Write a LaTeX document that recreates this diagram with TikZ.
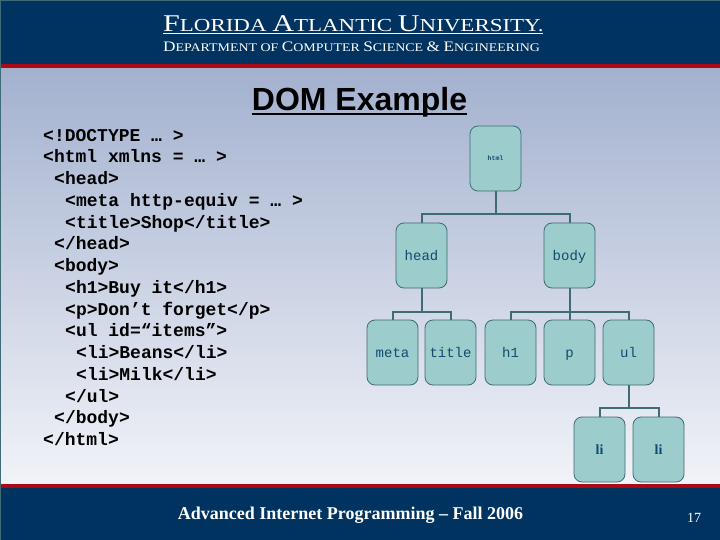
\documentclass[tikz,border=0pt]{standalone}
\usepackage{fontspec}
\setmainfont{Liberation Serif}
\setsansfont{Liberation Sans}
\setmonofont{Liberation Mono}
\usetikzlibrary{positioning}

\definecolor{navy}{RGB}{0,51,96}
\definecolor{stripe}{RGB}{170,10,20}
\definecolor{boxfill}{RGB}{156,204,204}
\definecolor{boxline}{RGB}{62,107,117}
\definecolor{boxtext}{RGB}{15,76,110}

% small capitals by hand
\newcommand{\capsA}[1]{{\fontsize{24}{24}\selectfont #1}}
\newcommand{\capsB}[1]{{\fontsize{14.5}{15}\selectfont #1}}
\newcommand{\codetab}[1]{\hspace*{#1pt}}

\begin{document}
\begin{tikzpicture}[
    x=1pt,
    y=-1pt,
    treebox/.style={
        rectangle,
        draw=boxline,
        fill=boxfill,
        line width=0.8pt,
        rounded corners=8pt,
        minimum width=51pt,
        minimum height=65pt,
        inner sep=0pt,
        outer sep=0pt,
        text=boxtext,
        text height=12pt,
        text depth=3pt,
        font=\ttfamily\fontsize{14}{16}\selectfont
    },
    leafbox/.style={
        treebox,
        font=\bfseries\fontsize{14}{16}\selectfont
    },
    link/.style={
        draw=boxline,
        line width=2pt
    },
    caption/.style={
        inner sep=0pt,
        text=white
    }
]
    \useasboundingbox (0,0) rectangle (720,540);

    % Bands
    \shade [top color={rgb,255:red,163;green,177;blue,207}, bottom color={rgb,255:red,241;green,243;blue,248}] (0,68) rectangle (720,484);
    \fill [navy] (0,0) rectangle (720,64);
    \fill [boxline] (0,0) rectangle (720,1.5);
    \fill [stripe] (0,64) rectangle (720,68);
    \fill [stripe] (0,484) rectangle (720,488);
    \fill [navy] (0,488) rectangle (720,540);
    \fill [boxline] (0,0) rectangle (1,540);

    % Header and footer
    \node [caption, anchor=base west] (school) at (163,32) {\scalebox{1.254}[1]{\fontsize{18.3}{20}\selectfont\makebox[0pt][l]{\rule[-1.5pt]{303pt}{0.7pt}}\capsA{F}LORIDA \capsA{A}TLANTIC \capsA{U}NIVERSITY.}};
    \node [caption, anchor=base west] (dept) at (163,52) {\scalebox{1.19}[1]{\fontsize{11.7}{13}\selectfont\capsB{D}EPARTMENT OF \capsB{C}OMPUTER \capsB{S}CIENCE \capsB{\&} \capsB{E}NGINEERING}};
    \node [caption, anchor=base, text=black, font=\sffamily\bfseries\fontsize{32}{34}\selectfont] (title) at (359.5,111) {\makebox[0pt][l]{\rule[-4.5pt]{215pt}{2pt}}DOM Example};
    \node [caption, anchor=base, font=\bfseries\fontsize{18}{20}\selectfont] (course) at (350.5,519) {Advanced Internet Programming – Fall 2006};
    \node [caption, anchor=base, font=\fontsize{14}{16}\selectfont] (page) at (694,522) {17};

    % Source listing
    \node [inner sep=0pt, anchor=north west, align=left, font=\ttfamily\bfseries\fontsize{18}{21.75}\selectfont] (source) at (43,129) {%
        <!DOCTYPE … >\\
        <html xmlns = … >\\
        \codetab{11}<head>\\
        \codetab{22}<meta http-equiv = … >\\
        \codetab{22}<title>Shop</title>\\
        \codetab{11}</head>\\
        \codetab{11}<body>\\
        \codetab{22}<h1>Buy it</h1>\\
        \codetab{22}<p>Don’t forget</p>\\
        \codetab{22}<ul id=“items”>\\
        \codetab{33}<li>Beans</li>\\
        \codetab{33}<li>Milk</li>\\
        \codetab{22}</ul>\\
        \codetab{11}</body>\\
        </html>};

    % Components
    \node [treebox, text height=7pt, font=\ttfamily\bfseries\fontsize{6.5}{8}\selectfont] (html) at (495.5,158.5) {html};
    \node [treebox, below left=32pt and 23pt of html] (head) {head};
    \node [treebox, below right=32pt and 23pt of html] (body) {body};
    \node [treebox, below left=32pt and -22pt of head] (meta) {meta};
    \node [treebox, below right=32pt and -22pt of head] (titlebox) {title};
    \node [treebox, below left=32pt and 8pt of body] (h1) {h1};
    \node [treebox, below=32pt of body] (p) {p};
    \node [treebox, below right=32pt and 8pt of body] (ul) {ul};
    \node [leafbox, below left=32pt and -22pt of ul] (li1) {li};
    \node [leafbox, below right=32pt and -21pt of ul] (li2) {li};

    % Forks
    \coordinate [below=23pt of html] (htmlfork);
    \coordinate [below=23.5pt of head] (headfork);
    \coordinate [below=23.5pt of body] (bodyfork);
    \coordinate [below=23pt of ul] (ulfork);

    % Tree connections
    \path [link] (html) -- (htmlfork);
    \path [link] (htmlfork) -| (head);
    \path [link] (htmlfork) -| (body);
    \path [link] (head) -- (headfork);
    \path [link] (headfork) -| (meta);
    \path [link] (headfork) -| (titlebox);
    \path [link] (body) -- (p);
    \path [link] (bodyfork) -| (h1);
    \path [link] (bodyfork) -| (ul);
    \path [link] (ul) -- (ulfork);
    \path [link] (ulfork) -| (li1);
    \path [link] (ulfork) -| (li2);
\end{tikzpicture}
\end{document}
